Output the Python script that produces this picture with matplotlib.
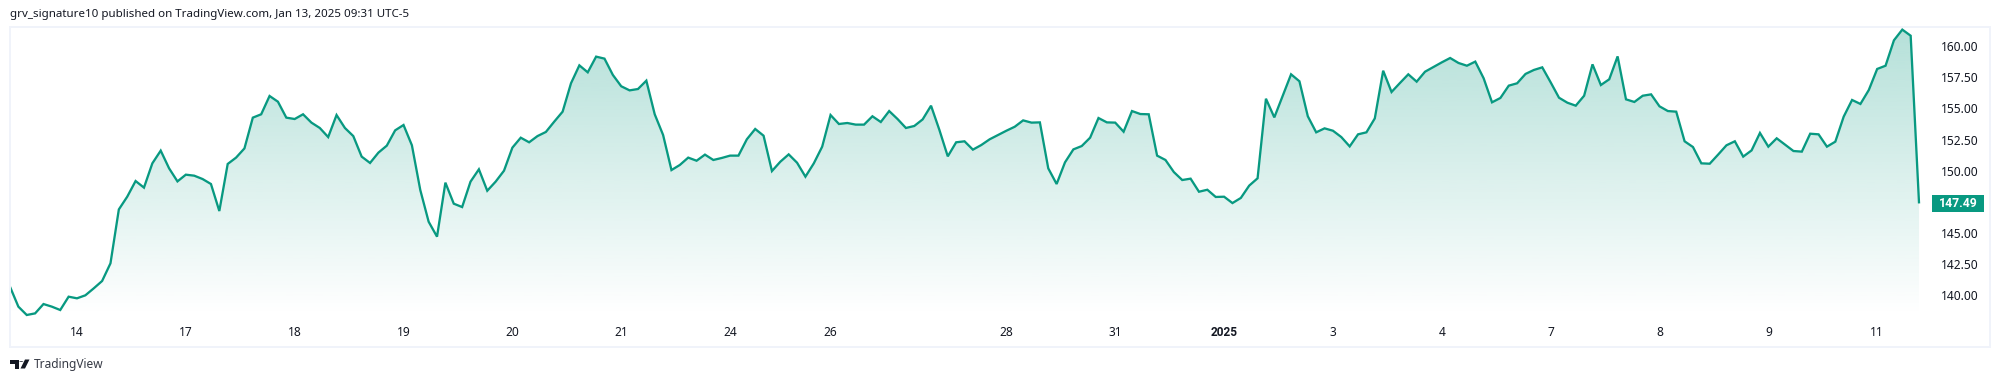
import numpy as np
import matplotlib
matplotlib.use("Agg")
import matplotlib.pyplot as plt
from matplotlib.patches import Polygon, Circle, Rectangle

plt.rcParams['font.family'] = ['Noto Sans', 'DejaVu Sans']

# 30 minute closes
prices = [
    140.80, 139.20, 138.53, 138.66, 139.41, 139.20, 138.93, 140.00, 139.87, 140.11,
    140.67, 141.26, 142.68, 147.01, 148.03, 149.29, 148.76, 150.71, 151.73, 150.31,
    149.26, 149.80, 149.72, 149.45, 149.05, 146.88, 150.66, 151.17, 151.91, 154.38,
    154.65, 156.12, 155.66, 154.38, 154.27, 154.65, 153.98, 153.55, 152.82, 154.59,
    153.55, 152.90, 151.25, 150.74, 151.57, 152.13, 153.36, 153.79, 152.16, 148.57,
    146.02, 144.82, 149.16, 147.47, 147.20, 149.24, 150.23, 148.51, 149.24, 150.12,
    151.97, 152.77, 152.40, 152.90, 153.23, 154.06, 154.86, 157.14, 158.58, 158.02,
    159.28, 159.12, 157.81, 156.90, 156.57, 156.68, 157.35, 154.65, 152.99, 150.17,
    150.58, 151.17, 150.92, 151.41, 150.98, 151.14, 151.33, 151.33, 152.64, 153.47,
    152.93, 150.09, 150.84, 151.43, 150.76, 149.64, 150.71, 152.05, 154.59, 153.87,
    153.95, 153.82, 153.82, 154.49, 154.03, 154.91, 154.27, 153.55, 153.71, 154.24,
    155.34, 153.39, 151.27, 152.40, 152.48, 151.81, 152.18, 152.64, 152.99, 153.33,
    153.65, 154.16, 153.98, 154.00, 150.31, 149.05, 150.79, 151.83, 152.10, 152.77,
    154.35, 154.00, 153.98, 153.25, 154.91, 154.67, 154.65, 151.33, 150.98, 150.01,
    149.37, 149.48, 148.43, 148.59, 148.01, 148.03, 147.52, 147.93, 148.92, 149.51,
    155.90, 154.40, 156.14, 157.86, 157.30, 154.49, 153.20, 153.52, 153.33, 152.82,
    152.07, 153.04, 153.20, 154.32, 158.15, 156.44, 157.16, 157.86, 157.27, 158.07,
    158.45, 158.82, 159.17, 158.77, 158.55, 158.88, 157.54, 155.61, 155.96, 156.95,
    157.14, 157.89, 158.21, 158.42, 157.22, 155.98, 155.58, 155.34, 156.14, 158.66,
    157.00, 157.46, 159.30, 155.85, 155.64, 156.14, 156.25, 155.29, 154.91, 154.86,
    152.48, 152.02, 150.71, 150.68, 151.41, 152.16, 152.48, 151.25, 151.75, 153.15,
    152.05, 152.72, 152.21, 151.70, 151.65, 153.09, 153.04, 152.05, 152.45, 154.46,
    155.80, 155.48, 156.60, 158.29, 158.55, 160.59, 161.45, 160.96, 147.49,
]
date_ticks = [8, 21, 34, 47, 60, 73, 86, 98, 119, 132, 145, 158, 171, 184, 197, 210, 223]
date_labels = ['14', '17', '18', '19', '20', '21', '24', '26', '28', '31', '2025',
               '3', '4', '7', '8', '9', '11']
price_ticks = [140, 142.5, 145, 147.5, 150, 152.5, 155, 157.5, 160]

GREEN = '#089981'
TEXT = '#131722'
BORDER = '#F0F3FA'
W, H = 2000, 382

fig = plt.figure(figsize=(W / 100, H / 100), dpi=100, facecolor='white')
# pane box is at x 10-1990, y 27-347 in pixels
ax = fig.add_axes([10 / W, 1 - 347 / H, 1980 / W, 320 / H])

x = np.arange(len(prices))
y = np.array(prices)

base = y.min()
poly = ax.fill_between(x, y, base, facecolor='none', edgecolor='none')
grad = np.zeros((256, 1, 4))
grad[:, 0, :3] = matplotlib.colors.to_rgb(GREEN)
grad[:, 0, 3] = np.linspace(0.30, 0.0, 256)
im = ax.imshow(grad, aspect='auto', origin='upper', interpolation='bilinear',
               extent=[x[0], x[-1], base, y.max()], zorder=1)
im.set_clip_path(poly.get_paths()[0], transform=ax.transData)

ax.plot(x, y, color=GREEN, lw=1.65, solid_joinstyle='miter', solid_capstyle='butt', zorder=2)

ax.set_xlim(0, 1980 / 8.373)
ax.set_ylim(135.96, 161.66)

ax.set_xticks(date_ticks)
ax.set_xticklabels(date_labels)
ax.set_yticks(price_ticks)
ax.set_yticklabels(['%.2f' % p for p in price_ticks])
ax.yaxis.tick_right()
ax.tick_params(axis='x', length=0, pad=-10.3, labelsize=8.6, labelcolor=TEXT)
ax.tick_params(axis='y', length=0, pad=-8.6, labelsize=8.6, labelcolor=TEXT)
for lab in ax.get_xticklabels():
    lab.set_va('center')
    if lab.get_text() == '2025':
        lab.set_family('Roboto')
        lab.set_fontweight('bold')
for lab in ax.get_yticklabels():
    lab.set_ha('right')
    lab.set_va('center')

for s in ax.spines.values():
    s.set_color(BORDER)
    s.set_linewidth(1.4)

# last price tag
trans = ax.get_yaxis_transform()
ax.add_patch(Rectangle(((1932 - 10) / 1980, y[-1] - 8.5 / 12.45), 52 / 1980, 17 / 12.45,
                       transform=trans, facecolor=GREEN, edgecolor='none', zorder=3))
ax.text((1978 - 10) / 1980, y[-1], '%.2f' % y[-1], transform=trans, ha='right', va='center',
        color='white', fontsize=8.8, fontweight='bold', family='Roboto', zorder=4)

fig.text(10 / W, 1 - 14.7 / H, 'grv_signature10 published on TradingView.com, Jan 13, 2025 09:31 UTC-5',
         ha='left', va='center', fontsize=8.3, color=TEXT)
fig.text(33.5 / W, 1 - 364.5 / H, 'TradingView', ha='left', va='center', fontsize=8.6, color='#363A45')

# TradingView logo, in figure pixels
def px(pts):
    return [(a / W, 1 - b / H) for a, b in pts]

fig.add_artist(Polygon(px([(10, 359.5), (18.5, 359.5), (18.5, 368.5), (14.5, 368.5), (14.5, 363.5), (10, 363.5)]),
                       closed=True, transform=fig.transFigure, facecolor=TEXT, edgecolor='none'))
fig.add_artist(Polygon(px([(25, 359.5), (29.5, 359.5), (25, 368.5), (20.5, 368.5)]),
                       closed=True, transform=fig.transFigure, facecolor=TEXT, edgecolor='none'))
fig.add_artist(Circle((21.3 / W, 1 - 361.5 / H), 2 / W, transform=fig.transFigure, facecolor=TEXT, edgecolor='none'))

fig.savefig('out.png', dpi=100)
